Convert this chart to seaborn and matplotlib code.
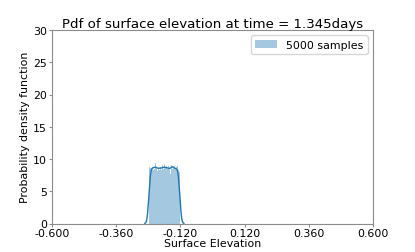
import numpy as np
import pandas as pd
import matplotlib
matplotlib.use("Agg")
import matplotlib.pyplot as plt
import seaborn as sns

# Lecture approximative de l'histogramme (50 classes entre -0.238 et -0.122)
bin_range = (-0.238, -0.122)
bin_heights = [8.0, 8.6, 8.4, 8.9, 8.2, 8.5, 8.7, 8.1, 8.6, 8.3,
               9.2, 8.8, 8.4, 8.0, 8.5, 8.3, 8.7, 8.2, 8.6, 8.4,
               8.1, 8.5, 8.9, 8.3, 8.6, 9.0, 8.4, 8.2, 8.7, 8.5,
               8.3, 8.8, 8.1, 8.4, 7.6, 8.6, 8.9, 9.6, 8.3, 8.5,
               8.2, 8.7, 8.4, 8.0, 8.6, 8.3, 8.8, 8.1, 8.5, 7.9]
bin_edges = np.linspace(bin_range[0], bin_range[1], len(bin_heights) + 1)
bin_centers = (bin_edges[:-1] + bin_edges[1:]) / 2
xticks = [-0.6, -0.36, -0.12, 0.12, 0.36, 0.6]
yticks = [0, 5, 10, 15, 20, 25, 30]
label = "5000 samples"

df = pd.DataFrame({'elev': bin_centers, 'dens': bin_heights})

plt.rcParams['axes.unicode_minus'] = False
plt.rcParams['font.family'] = ['DejaVu Sans']

fig, ax = plt.subplots(figsize=(4.15, 2.53), dpi=100)
fig.subplots_adjust(left=52/415, right=373/415, top=1-31/253, bottom=1-224.5/253)

sns.histplot(data=df, x='elev', weights='dens', bins=len(bin_heights), binrange=bin_range,
             stat='density', color='#1f77b4', alpha=0.4, linewidth=0,
             label=label, ax=ax)
sns.kdeplot(data=df, x='elev', weights='dens', bw_adjust=0.35, color='#1f77b4',
            linewidth=1.0, ax=ax)

ax.set_xlim(-0.6, 0.6)
ax.set_ylim(0, 30)
ax.set_xticks(xticks)
ax.set_xticklabels(['%.3f' % t for t in xticks])
ax.set_yticks(yticks)
ax.tick_params(labelsize=7.9, color='#8c8c8c', length=2, width=0.8, pad=1.5)
for s in ax.spines.values():
    s.set_color('#8c8c8c')
    s.set_linewidth(0.8)

ax.set_title('Pdf of surface elevation at time = 1.345days', fontsize=9.6, pad=2)
ax.set_xlabel('Surface Elevation', fontsize=7.9, labelpad=0)
ax.set_ylabel('Probability density function', fontsize=7.9, labelpad=2)
ax.legend(loc='upper right', fontsize=7.9)

fig.savefig('out.png', dpi=100)
